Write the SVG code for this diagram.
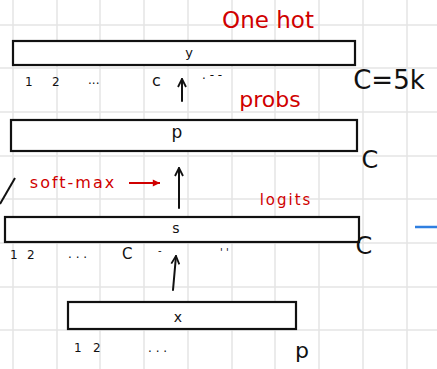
<svg xmlns="http://www.w3.org/2000/svg" width="437" height="369" viewBox="0 0 437 369">
  <defs>
    <style>
      .grid { stroke: #e4e4e4; stroke-width: 1.5; }
      .box { fill: #ffffff; stroke: #111111; stroke-width: 2.2; }
      .ink { font-family: "DejaVu Sans", sans-serif; fill: #111111; }
      .red { font-family: "DejaVu Sans", sans-serif; fill: #d00000; }
      .wire { stroke: #111111; stroke-width: 2; fill: none; stroke-linecap: round; }
    </style>
    <marker id="head" viewBox="0 0 10 10" refX="9" refY="5" markerWidth="10" markerHeight="10" orient="auto" markerUnits="userSpaceOnUse">
      <path d="M1,1 L9,5 L1,9" fill="none" stroke="#111111" stroke-width="1.8" stroke-linejoin="round"/>
    </marker>
    <marker id="redhead" viewBox="0 0 10 10" refX="9" refY="5" markerWidth="9" markerHeight="9" orient="auto" markerUnits="userSpaceOnUse">
      <path d="M1,1 L9,5 L1,9 Z" fill="#d00000"/>
    </marker>
  </defs>

  <rect width="437" height="369" fill="#ffffff"/>

  <!-- squared paper -->
  <g class="grid">
    <line x1="13" y1="0" x2="13" y2="369"/>
    <line x1="57" y1="0" x2="57" y2="369"/>
    <line x1="100" y1="0" x2="100" y2="369"/>
    <line x1="144" y1="0" x2="144" y2="369"/>
    <line x1="188" y1="0" x2="188" y2="369"/>
    <line x1="232" y1="0" x2="232" y2="369"/>
    <line x1="275" y1="0" x2="275" y2="369"/>
    <line x1="319" y1="0" x2="319" y2="369"/>
    <line x1="363" y1="0" x2="363" y2="369"/>
    <line x1="407" y1="0" x2="407" y2="369"/>
    <line x1="0" y1="25" x2="437" y2="25"/>
    <line x1="0" y1="68" x2="437" y2="68"/>
    <line x1="0" y1="112" x2="437" y2="112"/>
    <line x1="0" y1="156" x2="437" y2="156"/>
    <line x1="0" y1="199" x2="437" y2="199"/>
    <line x1="0" y1="243" x2="437" y2="243"/>
    <line x1="0" y1="287" x2="437" y2="287"/>
    <line x1="0" y1="330" x2="437" y2="330"/>
  </g>

  <!-- connectors -->
  <g id="connectors">
    <line class="wire" x1="173" y1="290" x2="176" y2="256" marker-end="url(#head)"/>
    <line class="wire" x1="179" y1="208" x2="179" y2="168" marker-end="url(#head)"/>
    <line class="wire" x1="182" y1="101" x2="182" y2="79" marker-end="url(#head)"/>
    <line x1="129" y1="183" x2="160" y2="183" stroke="#d00000" stroke-width="2" marker-end="url(#redhead)"/>
  </g>

  <!-- output one-hot vector -->
  <g id="node-y">
    <rect class="box" x="13" y="41" width="342" height="24"/>
    <text class="ink" x="189" y="57" font-size="13" text-anchor="middle">y</text>
    <text class="red" x="268" y="28" font-size="23" text-anchor="middle">One hot</text>
    <text class="ink" x="25" y="86" font-size="12">1</text>
    <text class="ink" x="52" y="86" font-size="12">2</text>
    <text class="ink" x="88" y="84" font-size="12">...</text>
    <text class="ink" x="152" y="86" font-size="16">c</text>
    <text class="ink" x="202" y="79" font-size="12">. - -</text>
    <text class="ink" x="389" y="89" font-size="26" text-anchor="middle">C=5k</text>
  </g>

  <!-- probability vector -->
  <g id="node-p">
    <rect class="box" x="11" y="120" width="346" height="31"/>
    <text class="ink" x="177" y="138" font-size="17" text-anchor="middle">p</text>
    <text class="red" x="270" y="107" font-size="22" text-anchor="middle">probs</text>
    <text class="ink" x="370" y="168" font-size="24" text-anchor="middle">C</text>
  </g>

  <!-- logits vector -->
  <g id="node-s">
    <rect class="box" x="5" y="217" width="354" height="25"/>
    <text class="ink" x="176" y="233" font-size="14" text-anchor="middle">s</text>
    <text class="red" x="286" y="205" font-size="15" text-anchor="middle" letter-spacing="2">logits</text>
    <text class="red" x="73" y="188" font-size="16" text-anchor="middle" letter-spacing="2">soft-max</text>
    <text class="ink" x="364" y="254" font-size="24" text-anchor="middle">C</text>
    <text class="ink" x="10" y="259" font-size="12">1</text>
    <text class="ink" x="27" y="259" font-size="12">2</text>
    <text class="ink" x="68" y="258" font-size="12">. . .</text>
    <text class="ink" x="122" y="259" font-size="15">C</text>
    <text class="ink" x="158" y="254" font-size="10">-</text>
    <text class="ink" x="220" y="256" font-size="10">' '</text>
  </g>

  <!-- input vector -->
  <g id="node-x">
    <rect class="box" x="68" y="302" width="228" height="27"/>
    <text class="ink" x="178" y="322" font-size="14" text-anchor="middle">x</text>
    <text class="ink" x="74" y="352" font-size="12">1</text>
    <text class="ink" x="93" y="352" font-size="12">2</text>
    <text class="ink" x="148" y="352" font-size="12">. . .</text>
    <text class="ink" x="302" y="358" font-size="22" text-anchor="middle">p</text>
  </g>

  <!-- stray strokes -->
  <line x1="0" y1="204" x2="15" y2="178" stroke="#111111" stroke-width="2"/>
  <line x1="415" y1="227" x2="437" y2="227" stroke="#2f7fe0" stroke-width="2.5"/>
</svg>
